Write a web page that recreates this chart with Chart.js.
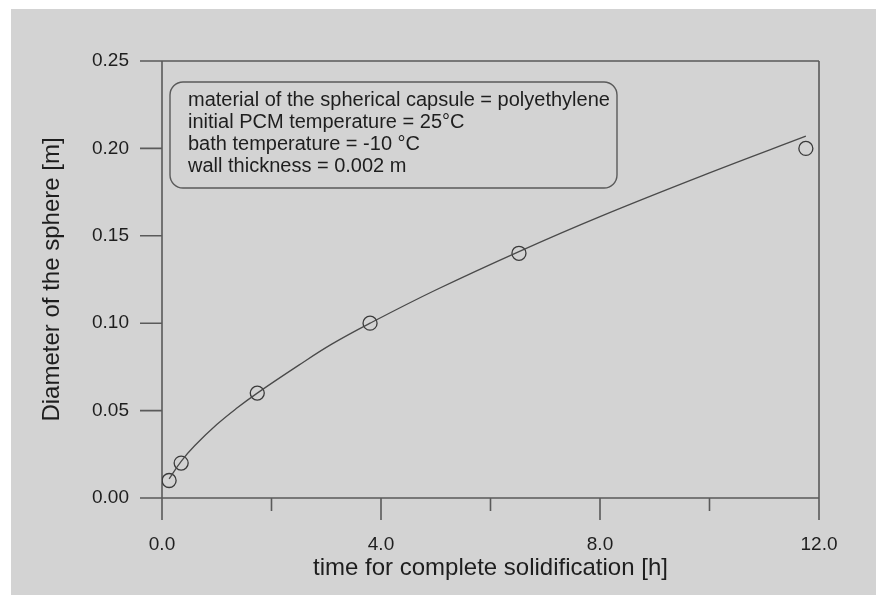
<!DOCTYPE html>
<html lang="en">
<head>
<meta charset="UTF-8" />
<title>Solidification time of a spherical capsule</title>
<script src="https://cdn.jsdelivr.net/npm/chart.js"></script>
<style>
  body {
    margin: 0;
    background: #ffffff;
    font-family: "Liberation Sans", Arial, sans-serif;
  }
  #plot {
    position: absolute;
    left: 11px;
    top: 9px;
    width: 865px;
    height: 586px;
    background: #d3d3d3;
  }
</style>
</head>
<body>

<div id="plot">
  <canvas id="solidChart"></canvas>
</div>

<script>
  // measured points: time for complete solidification [h] vs sphere diameter [m]
  const solidTime = [0.13, 0.35, 1.74, 3.8, 6.52, 11.76];
  const sphereDiameter = [0.01, 0.02, 0.06, 0.10, 0.14, 0.20];

  // fitted curve through the measurements
  const fitTime = [0.13, 0.35, 0.6, 1.0, 1.35, 1.74, 2.5, 3.1, 3.8, 5.0, 6.52, 8.0, 10.0, 11.76];
  const fitDiameter = [0.011, 0.021, 0.030, 0.042, 0.051, 0.060, 0.076, 0.088, 0.100, 0.119, 0.141, 0.161, 0.186, 0.207];

  const xMinorTicks = [2, 6, 10];

  const infoLines = [
    'material of the spherical capsule = polyethylene',
    'initial PCM temperature = 25°C',
    'bath temperature = -10 °C',
    'wall thickness = 0.002 m'
  ];

  const FONT = '"Liberation Sans", Arial, sans-serif';
  const INK = '#1e1e1e';
  const AXIS = '#5a5a5a';

  // box frame with outside ticks; side lines run down past the x axis
  const framePlugin = {
    id: 'frame',
    beforeDatasetsDraw(chart) {
      const { ctx, chartArea: a, scales: { x, y } } = chart;
      const major = 22, minor = 13;
      ctx.save();
      ctx.strokeStyle = AXIS;
      ctx.lineWidth = 1.6;
      ctx.beginPath();
      y.ticks.forEach(t => {
        const py = y.getPixelForValue(t.value);
        ctx.moveTo(a.left - major, py);
        ctx.lineTo(a.left, py);
      });
      ctx.moveTo(a.left, a.top);
      ctx.lineTo(a.right, a.top);
      ctx.moveTo(a.left, a.bottom);
      ctx.lineTo(a.right, a.bottom);
      x.ticks.forEach(t => {
        const px = x.getPixelForValue(t.value);
        ctx.moveTo(px, a.bottom);
        ctx.lineTo(px, a.bottom + major);
      });
      xMinorTicks.forEach(v => {
        const px = x.getPixelForValue(v);
        ctx.moveTo(px, a.bottom);
        ctx.lineTo(px, a.bottom + minor);
      });
      ctx.moveTo(a.left, a.top);
      ctx.lineTo(a.left, a.bottom);
      ctx.moveTo(a.right, a.top);
      ctx.lineTo(a.right, a.bottom);
      ctx.stroke();
      ctx.restore();
    },
    afterDraw(chart) {
      const { ctx, chartArea: a } = chart;
      const bx = a.left + 8, by = a.top + 21, bw = 447, bh = 106, r = 13;
      ctx.save();
      ctx.strokeStyle = AXIS;
      ctx.lineWidth = 1.4;
      ctx.beginPath();
      ctx.roundRect(bx, by, bw, bh, r);
      ctx.stroke();
      ctx.fillStyle = INK;
      ctx.font = '20px ' + FONT;
      ctx.textBaseline = 'middle';
      infoLines.forEach((line, i) => {
        ctx.fillText(line, bx + 18, by + 18 + i * 22);
      });
      ctx.restore();
    }
  };

  new Chart(document.getElementById('solidChart'), {
    type: 'scatter',
    data: {
      datasets: [
        {
          label: 'fit',
          data: fitTime.map((t, i) => ({ x: t, y: fitDiameter[i] })),
          showLine: true,
          borderColor: '#4a4a4a',
          borderWidth: 1.3,
          pointRadius: 0,
          tension: 0.4,
          fill: false
        },
        {
          label: 'measured',
          data: solidTime.map((t, i) => ({ x: t, y: sphereDiameter[i] })),
          showLine: false,
          pointStyle: 'circle',
          pointRadius: 7,
          pointBorderWidth: 1.3,
          pointBorderColor: '#3a3a3a',
          pointBackgroundColor: 'rgba(0,0,0,0)'
        }
      ]
    },
    options: {
      responsive: true,
      maintainAspectRatio: false,
      animation: false,
      layout: { padding: { top: 52, right: 57, left: 0, bottom: 0 } },
      plugins: {
        legend: { display: false },
        tooltip: { enabled: false }
      },
      scales: {
        x: {
          type: 'linear',
          min: 0,
          max: 12,
          border: { display: false },
          grid: { display: false },
          ticks: {
            stepSize: 4,
            padding: 27,
            color: INK,
            font: { family: FONT, size: 19 },
            maxRotation: 0,
            callback: v => v.toFixed(1)
          },
          title: {
            display: true,
            text: 'time for complete solidification [h]',
            color: INK,
            font: { family: FONT, size: 24 },
            padding: { top: 0, bottom: 12 }
          },
          afterFit: s => { s.height = 97; }
        },
        y: {
          type: 'linear',
          min: 0,
          max: 0.25,
          border: { display: false },
          grid: { display: false },
          ticks: {
            stepSize: 0.05,
            padding: 25,
            color: INK,
            font: { family: FONT, size: 19 },
            callback: v => v.toFixed(2)
          },
          title: {
            display: true,
            text: 'Diameter of the sphere [m]',
            color: INK,
            font: { family: FONT, size: 24 },
            padding: { top: 27, bottom: 0 }
          },
          afterFit: s => { s.width = 151; }
        }
      }
    },
    plugins: [framePlugin]
  });
</script>

</body>
</html>
